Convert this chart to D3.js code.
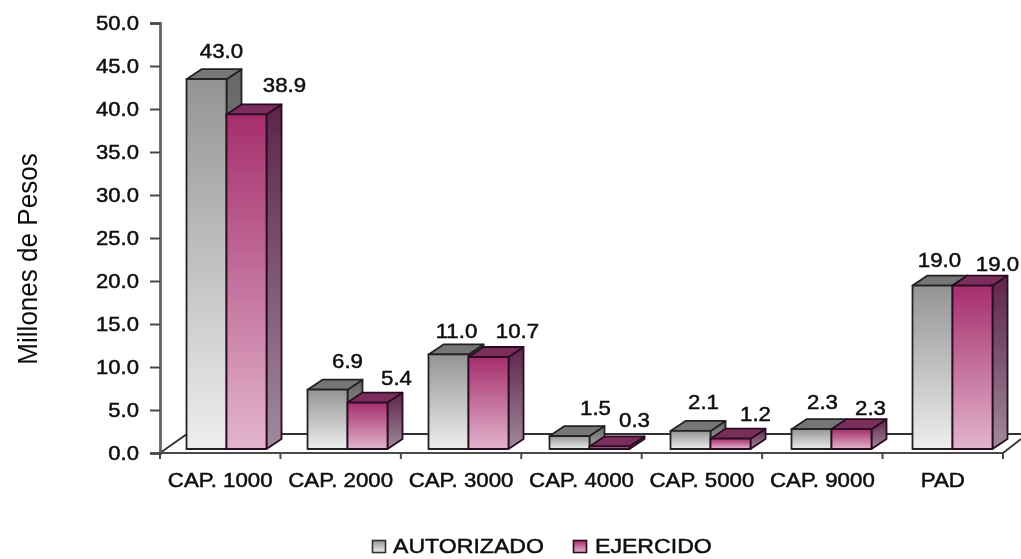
<!DOCTYPE html>
<html><head><meta charset="utf-8">
<script src="https://cdn.jsdelivr.net/npm/d3@7"></script>
<style>
html,body{margin:0;padding:0;background:#fff;overflow:hidden}
text{font-family:"Liberation Sans",Arial,sans-serif;fill:#111}
</style></head><body>
<svg id="c" width="1021" height="559"></svg>
<script>
const categories=["CAP. 1000","CAP. 2000","CAP. 3000","CAP. 4000","CAP. 5000","CAP. 9000","PAD"];
const autorizado=[43.0,6.9,11.0,1.5,2.1,2.3,19.0];
const ejercido=[38.9,5.4,10.7,0.3,1.2,2.3,19.0];
const yTicks=[0,5,10,15,20,25,30,35,40,45,50];
const seriesNames=["AUTORIZADO","EJERCIDO"];
// label nudges (layout, not data)
const autShift=[[15,-29],[20,-29],[8,-24],[26,-29],[13,-29],[11,-28],[7,-26]];
const ejeShift=[[38,-30],[29,-25],[29,-26],[25,-27],[25,-25],[19,-22],[25,-22]];

const svg=d3.select("#c");
const defs=svg.append("defs");
const grad=(id,a,b)=>{const g=defs.append("linearGradient").attr("id",id).attr("x1",0).attr("y1",0).attr("x2",0).attr("y2",1);
  g.append("stop").attr("offset",0).attr("stop-color",a);g.append("stop").attr("offset",1).attr("stop-color",b);};
grad("aF","#949494","#eeeeee");grad("aS","#666666","#a8a8a8");
grad("eF","#a52e6c","#e2b4cd");grad("eS","#5e2449","#a08a9c");
defs.append("filter").attr("id","soft").append("feGaussianBlur").attr("stdDeviation",0.55);

const root=svg.append("g").attr("filter","url(#soft)");
const y=d3.scaleLinear().domain([0,50]).range([453,23]);
const xAxis=d3.scaleBand().domain(categories).range([160,1003]);
const xBars=d3.scaleBand().domain(categories).range([166,1013]);
const BW=40,DX=15,DY=10,LIFT=4,AX="#4a4a4a";

const stretch=(sel,k)=>sel.each(function(){d3.select(this).attr("textLength",this.getComputedTextLength()*k).attr("lengthAdjust","spacingAndGlyphs");});
const bold=sel=>sel.attr("stroke","#111").attr("stroke-width",0.5);

// floor
const floor=root.append("g").attr("fill","none").attr("stroke","#333").attr("stroke-width",1.8);
floor.append("path").attr("d",d3.line()([[160,453],[187,434],[1021,434]]));
floor.append("path").attr("d",d3.line()([[1003,453],[1021,439]]));

// y axis
const gy=root.append("g").attr("transform","translate(160,0)").call(d3.axisLeft(y).tickValues(yTicks).tickFormat(d3.format(".1f")).tickSize(10).tickPadding(11));
gy.attr("font-family",null);
gy.selectAll("path").attr("stroke","#666").attr("stroke-width",2.8);
gy.selectAll("line").attr("stroke",AX).attr("stroke-width",2);
gy.selectAll("text").style("font-size","21px").call(bold).call(stretch,1.05);

// x axis
const gx=root.append("g").attr("transform","translate(0,453)").call(d3.axisBottom(xAxis).tickSize(0));
gx.attr("font-family",null);
gx.select("path").attr("stroke",AX).attr("stroke-width",2.2).attr("d","M157,0H1003");
gx.selectAll("text").attr("y",34).attr("dy",0).style("font-size","21px").call(bold).call(stretch,1.06);
const bounds=[...categories.map(c=>xAxis(c)),1003];
root.append("g").selectAll("line").data(bounds).join("line")
  .attr("x1",d=>d).attr("x2",d=>d).attr("y1",453).attr("y2",459).attr("stroke",AX).attr("stroke-width",2);

// bars
function bars(values,off,f,s,top,stroke){
  const g=root.append("g").attr("stroke",stroke).attr("stroke-width",1.8).attr("stroke-linejoin","round");
  categories.forEach((c,i)=>{
    const x0=xBars(c)+xBars.bandwidth()/2+off-BW/2, x1=x0+BW;
    const yt=y(values[i])-LIFT, yb=y(0)-LIFT;
    g.append("path").attr("fill",`url(#${s})`).attr("d",d3.line()([[x1,yb],[x1+DX,yb-DY],[x1+DX,yt-DY],[x1,yt]])+"Z");
    g.append("path").attr("fill",top).attr("d",d3.line()([[x0,yt],[x0+DX,yt-DY],[x1+DX,yt-DY],[x1,yt]])+"Z");
    g.append("rect").attr("x",x0).attr("y",yt).attr("width",BW).attr("height",Math.max(yb-yt,0)).attr("fill",`url(#${f})`);
  });
}
bars(autorizado,-20,"aF","aS","#767676","#222");
bars(ejercido,20,"eF","eS","#7a2e5c","#2c0a22");

// value labels
function labels(values,off,shift){
  root.append("g").selectAll("text").data(values).join("text")
    .attr("x",(d,i)=>xBars(categories[i])+xBars.bandwidth()/2+off+shift[i][0])
    .attr("y",(d,i)=>y(d)-LIFT+shift[i][1]+7.5)
    .attr("text-anchor","middle").style("font-size","21px")
    .call(bold).text(d3.format(".1f")).call(stretch,1.06);
}
labels(autorizado,-20,autShift);
labels(ejercido,20,ejeShift);

// y title
root.append("text").attr("transform","translate(37,259) rotate(-90)").attr("text-anchor","middle")
  .style("font-size","28px").attr("fill","#333").text("Millones de Pesos").call(stretch,0.93);

// legend
const lx=[372.5,573.5],tx=[393,595],kLeg=[1.1,1.1];
const leg=root.append("g");
seriesNames.forEach((n,i)=>{
  leg.append("rect").attr("x",lx[i]).attr("y",540.5).attr("width",13).attr("height",12)
    .attr("fill",`url(#${i?"eF":"aF"})`).attr("stroke",i?"#2c0a22":"#333").attr("stroke-width",1.6);
  leg.append("text").attr("x",tx[i]).attr("y",553).style("font-size","21px").call(bold).text(n).call(stretch,kLeg[i]);
});
</script></body></html>
